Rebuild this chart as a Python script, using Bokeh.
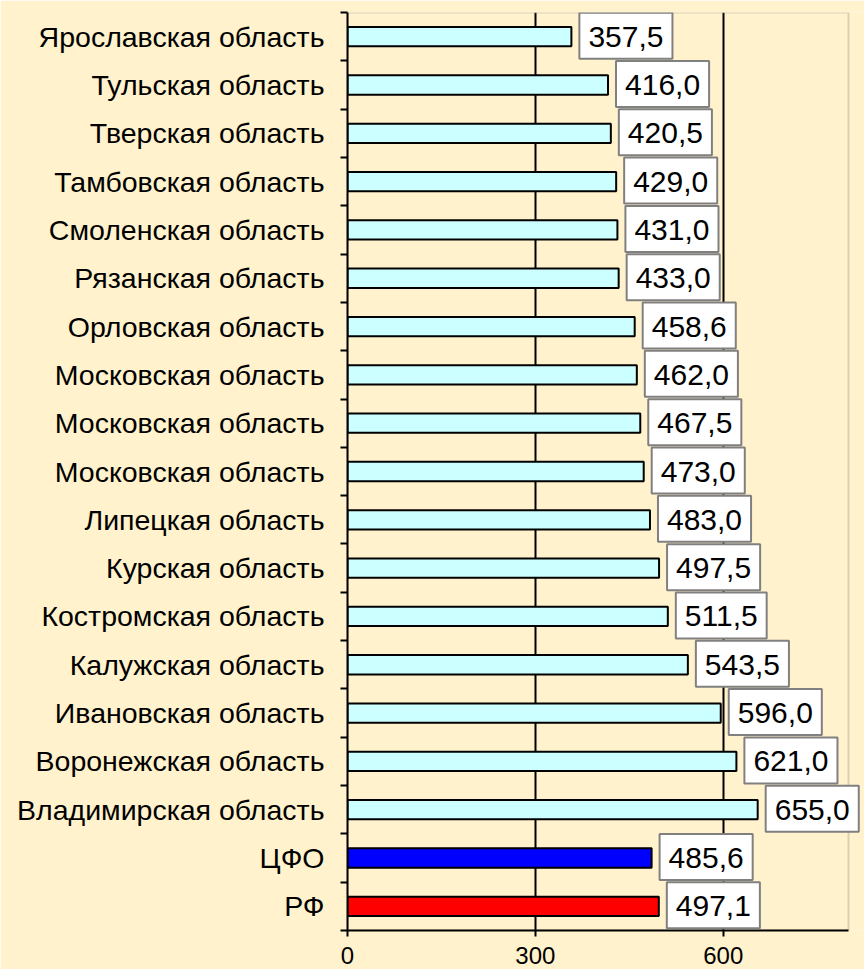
from bokeh.plotting import figure
from bokeh.models import FixedTicker, ColumnDataSource, Range1d, Label, BoxAnnotation
from bokeh.embed import file_html
from bokeh.resources import INLINE

regions = [
    "Ярославская область", "Тульская область", "Тверская область",
    "Тамбовская область", "Смоленская область", "Рязанская область",
    "Орловская область", "Московская область", "Московская область",
    "Московская область", "Липецкая область", "Курская область",
    "Костромская область", "Калужская область", "Ивановская область",
    "Воронежская область", "Владимирская область", "ЦФО", "РФ",
]
values = [357.5, 416.0, 420.5, 429.0, 431.0, 433.0, 458.6, 462.0, 467.5,
          473.0, 483.0, 497.5, 511.5, 543.5, 596.0, 621.0, 655.0, 485.6, 497.1]
bar_colors = ["#CCFFFF"] * 17 + ["#0000FF", "#FF0000"]
x_ticks = [0, 300, 600]
x_max = 800

n = len(regions)
ys = [n - i - 0.5 for i in range(n)]
labels = [f"{v:.1f}".replace(".", ",") for v in values]

src = ColumnDataSource(dict(y=ys, v=values, c=bar_colors, lab=labels))

BG = "#FFF2CC"
FONT = "Liberation Sans"

PLOT_W = 501          # width of the value axis area
EXTRA_W = 16          # room for labels past the plot border
x_end = x_max * (PLOT_W + EXTRA_W) / PLOT_W

p = figure(frame_width=PLOT_W + EXTRA_W, frame_height=918,
           x_range=Range1d(0, x_end), y_range=Range1d(0, n),
           output_backend="svg", toolbar_location=None,
           min_border_left=347, min_border_right=0,
           min_border_top=12, min_border_bottom=39)
p.background_fill_color = BG
p.border_fill_color = BG
p.outline_line_color = None

# plot-area border (gray) limited to the value range
p.add_layout(BoxAnnotation(left=0, right=x_max, bottom=0, top=n,
                           fill_color=None, line_color="#808080", line_width=2,
                           level="underlay"))

p.hbar(y="y", left=0, right="v", height=0.4, fill_color="c",
       line_color="black", line_width=2, source=src)

for v, y, lab in zip(values, ys, labels):
    p.add_layout(Label(x=v, y=y, text=lab, x_offset=8, y_offset=1,
                       text_align="left", text_baseline="middle",
                       text_font=FONT, text_font_size="30px", text_color="black",
                       background_fill_color="white", border_line_color="#808080",
                       border_line_width=2,
                       padding=dict(left=9, right=9, top=14, bottom=12)))

# x axis
p.xaxis.ticker = FixedTicker(ticks=x_ticks)
p.xaxis.bounds = (0, x_max)
p.xaxis.major_tick_out = 6
p.xaxis.major_tick_in = 0
p.xaxis.minor_tick_out = 0
p.xaxis.axis_line_color = "black"
p.xaxis.axis_line_width = 2
p.xaxis.major_tick_line_width = 2
p.xaxis.major_label_text_font = FONT
p.xaxis.major_label_text_font_size = "24px"
p.xaxis.major_label_text_color = "black"
p.xaxis.major_label_standoff = 10

p.xgrid.grid_line_color = "black"
p.xgrid.grid_line_width = 2
p.ygrid.grid_line_color = None

# y axis
p.yaxis.ticker = FixedTicker(ticks=ys, minor_ticks=list(range(n + 1)))
p.yaxis.major_label_overrides = {y: r for y, r in zip(ys, regions)}
p.yaxis.major_tick_out = 0
p.yaxis.major_tick_in = 0
p.yaxis.minor_tick_out = 7
p.yaxis.minor_tick_in = 0
p.yaxis.minor_tick_line_color = "black"
p.yaxis.minor_tick_line_width = 2
p.yaxis.axis_line_color = "black"
p.yaxis.axis_line_width = 2
p.yaxis.major_label_text_font = FONT
p.yaxis.major_label_text_font_size = "28.5px"
p.yaxis.major_label_text_color = "black"
p.yaxis.major_label_standoff = 16

open("out.html", "w").write(file_html(p, INLINE))
